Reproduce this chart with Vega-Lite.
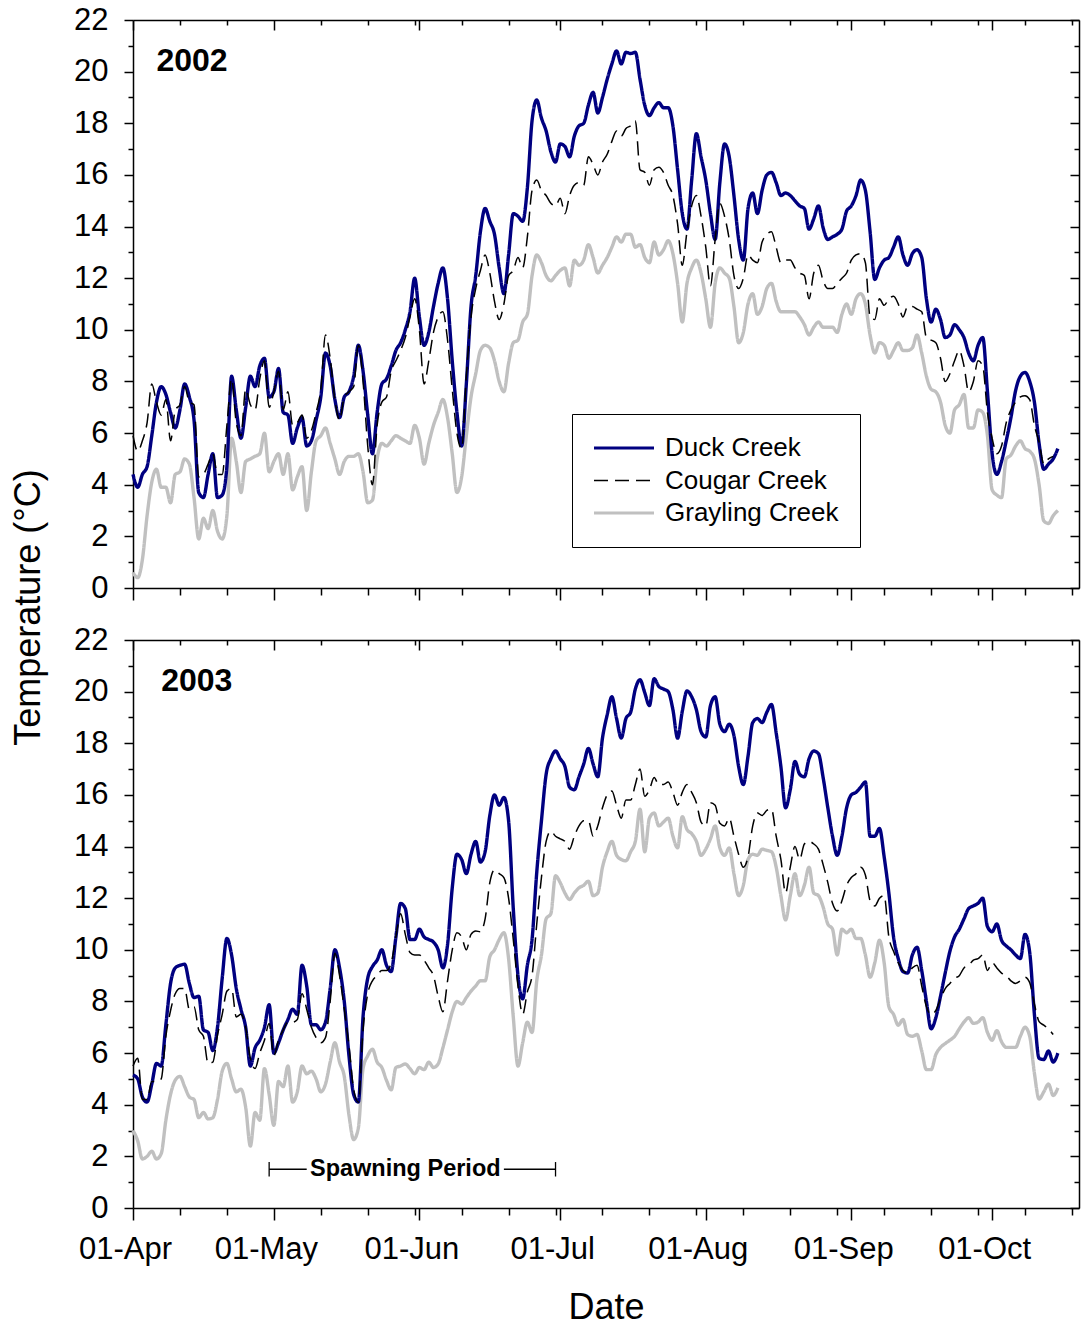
{
  "$schema": "https://vega.github.io/schema/vega-lite/v6.json",
  "background": "white",
  "padding": {"left": 10, "top": 4, "right": 1, "bottom": 2},
  "config": {
    "font": "Liberation Sans",
    "view": {"stroke": null},
    "axis": {"domainColor": "black", "domainWidth": 1.5, "tickColor": "black", "tickWidth": 1.5, "labelColor": "black", "titleColor": "black", "labelFont": "Liberation Sans", "titleFont": "Liberation Sans", "grid": false, "labelFontSize": 31, "titleFontSize": 36, "titleFontWeight": "normal", "labelOverlap": false, "labelFlush": false, "labelBound": false}
  },
  "datasets": {
    "y2002": [
      {"d":"04-01","D":4.4,"C":5.9,"G":0.6},{"d":"04-02","D":3.9,"C":5.3,"G":0.4},{"d":"04-03","D":4.4,"C":5.7,"G":1.1},{"d":"04-04","D":4.7,"C":6.4,"G":2.8},{"d":"04-05","D":5.9,"C":7.9,"G":4.1},{"d":"04-06","D":7.2,"C":7.2,"G":4.6},{"d":"04-07","D":7.8,"C":6.7,"G":3.9},{"d":"04-08","D":7.5,"C":7.3,"G":3.9},{"d":"04-09","D":6.8,"C":5.7,"G":3.3},{"d":"04-10","D":6.2,"C":6.9,"G":4.4},
      {"d":"04-11","D":6.9,"C":7.1,"G":4.5},{"d":"04-12","D":7.9,"C":7.8,"G":5.0},{"d":"04-13","D":7.4,"C":7.2,"G":4.8},{"d":"04-14","D":6.5,"C":7.1,"G":3.5},{"d":"04-15","D":3.7,"C":4.3,"G":1.9},{"d":"04-16","D":3.5,"C":4.4,"G":2.7},{"d":"04-17","D":4.4,"C":4.8,"G":2.3},{"d":"04-18","D":5.2,"C":5.2,"G":3.0},{"d":"04-19","D":3.5,"C":4.4,"G":2.2},{"d":"04-20","D":3.6,"C":4.4,"G":1.9},
      {"d":"04-21","D":4.7,"C":6.3,"G":2.8},{"d":"04-22","D":8.2,"C":8.1,"G":5.8},{"d":"04-23","D":6.9,"C":6.4,"G":4.9},{"d":"04-24","D":5.8,"C":5.9,"G":3.7},{"d":"04-25","D":7.0,"C":7.7,"G":4.9},{"d":"04-26","D":8.2,"C":7.1,"G":5.0},{"d":"04-27","D":7.8,"C":6.9,"G":5.1},{"d":"04-28","D":8.6,"C":8.1,"G":5.2},{"d":"04-29","D":8.9,"C":8.8,"G":6.0},{"d":"04-30","D":7.4,"C":7.0,"G":4.5},
      {"d":"05-01","D":7.6,"C":7.6,"G":4.9},{"d":"05-02","D":8.5,"C":8.4,"G":5.2},{"d":"05-03","D":6.8,"C":6.9,"G":4.4},{"d":"05-04","D":6.7,"C":7.6,"G":5.2},{"d":"05-05","D":5.6,"C":6.3,"G":3.8},{"d":"05-06","D":6.2,"C":6.4,"G":4.3},{"d":"05-07","D":6.6,"C":6.7,"G":4.7},{"d":"05-08","D":5.5,"C":5.8,"G":3.0},{"d":"05-09","D":5.7,"C":6.1,"G":4.5},{"d":"05-10","D":6.5,"C":6.8,"G":5.7},
      {"d":"05-11","D":7.4,"C":7.7,"G":5.9},{"d":"05-12","D":9.1,"C":9.8,"G":6.2},{"d":"05-13","D":8.6,"C":8.9,"G":5.6},{"d":"05-14","D":7.3,"C":7.3,"G":5.0},{"d":"05-15","D":6.6,"C":6.5,"G":4.4},{"d":"05-16","D":7.4,"C":7.4,"G":4.9},{"d":"05-17","D":7.6,"C":7.6,"G":5.1},{"d":"05-18","D":8.2,"C":7.8,"G":5.1},{"d":"05-19","D":9.4,"C":9.4,"G":5.2},{"d":"05-20","D":8.4,"C":8.0,"G":4.5},
      {"d":"05-21","D":6.7,"C":5.5,"G":3.3},{"d":"05-22","D":5.2,"C":4.0,"G":3.4},{"d":"05-23","D":6.8,"C":6.3,"G":5.0},{"d":"05-24","D":7.9,"C":7.2,"G":5.6},{"d":"05-25","D":8.1,"C":7.4,"G":5.5},{"d":"05-26","D":8.6,"C":8.4,"G":5.7},{"d":"05-27","D":9.2,"C":8.8,"G":5.9},{"d":"05-28","D":9.5,"C":9.2,"G":5.8},{"d":"05-29","D":10.0,"C":9.7,"G":5.7},{"d":"05-30","D":10.7,"C":10.5,"G":5.6},
      {"d":"05-31","D":12.0,"C":11.2,"G":6.3},{"d":"06-01","D":10.5,"C":10.0,"G":5.8},{"d":"06-02","D":9.4,"C":7.9,"G":4.8},{"d":"06-03","D":9.9,"C":8.8,"G":5.6},{"d":"06-04","D":10.9,"C":9.9,"G":6.3},{"d":"06-05","D":11.8,"C":10.5,"G":6.8},{"d":"06-06","D":12.4,"C":10.7,"G":7.3},{"d":"06-07","D":11.2,"C":9.6,"G":6.6},{"d":"06-08","D":8.8,"C":7.7,"G":5.2},{"d":"06-09","D":6.8,"C":6.0,"G":3.7},
      {"d":"06-10","D":5.5,"C":5.4,"G":4.3},{"d":"06-11","D":7.9,"C":8.2,"G":5.9},{"d":"06-12","D":10.9,"C":10.5,"G":7.4},{"d":"06-13","D":12.1,"C":11.6,"G":8.3},{"d":"06-14","D":13.8,"C":12.3,"G":9.2},{"d":"06-15","D":14.7,"C":12.9,"G":9.4},{"d":"06-16","D":14.2,"C":12.2,"G":9.3},{"d":"06-17","D":13.7,"C":11.1,"G":8.8},{"d":"06-18","D":12.4,"C":10.4,"G":8.0},{"d":"06-19","D":11.4,"C":11.0,"G":7.6},
      {"d":"06-20","D":12.9,"C":12.1,"G":8.7},{"d":"06-21","D":14.5,"C":12.3,"G":9.5},{"d":"06-22","D":14.4,"C":12.8,"G":9.6},{"d":"06-23","D":14.2,"C":12.4,"G":10.3},{"d":"06-24","D":15.5,"C":13.6,"G":10.6},{"d":"06-25","D":18.1,"C":15.4,"G":12.1},{"d":"06-26","D":18.9,"C":15.8,"G":12.9},{"d":"06-27","D":18.2,"C":15.4,"G":12.6},{"d":"06-28","D":17.7,"C":15.2,"G":12.1},{"d":"06-29","D":16.9,"C":14.9,"G":11.9},
      {"d":"06-30","D":16.5,"C":14.8,"G":12.1},{"d":"07-01","D":17.2,"C":15.1,"G":12.3},{"d":"07-02","D":17.1,"C":14.5,"G":12.4},{"d":"07-03","D":16.7,"C":15.2,"G":11.7},{"d":"07-04","D":17.5,"C":15.6,"G":12.7},{"d":"07-05","D":17.9,"C":15.7,"G":12.5},{"d":"07-06","D":18.0,"C":15.6,"G":12.7},{"d":"07-07","D":18.7,"C":16.7,"G":13.3},{"d":"07-08","D":19.2,"C":16.4,"G":12.8},{"d":"07-09","D":18.4,"C":16.0,"G":12.2},
      {"d":"07-10","D":19.0,"C":16.5,"G":12.5},{"d":"07-11","D":19.7,"C":16.8,"G":12.8},{"d":"07-12","D":20.3,"C":17.3,"G":13.2},{"d":"07-13","D":20.8,"C":17.7,"G":13.6},{"d":"07-14","D":20.3,"C":17.5,"G":13.4},{"d":"07-15","D":20.75,"C":17.8,"G":13.7},{"d":"07-16","D":20.7,"C":17.9,"G":13.7},{"d":"07-17","D":20.75,"C":18.1,"G":13.2},{"d":"07-18","D":19.7,"C":16.2,"G":13.3},{"d":"07-19","D":18.7,"C":16.1,"G":12.8},
      {"d":"07-20","D":18.3,"C":15.6,"G":12.6},{"d":"07-21","D":18.6,"C":16.2,"G":13.4},{"d":"07-22","D":18.8,"C":16.3,"G":12.9},{"d":"07-23","D":18.6,"C":16.1,"G":13.1},{"d":"07-24","D":18.6,"C":15.6,"G":13.45},{"d":"07-25","D":17.9,"C":15.2,"G":12.95},{"d":"07-26","D":16.2,"C":14.1,"G":11.8},{"d":"07-27","D":14.5,"C":12.5,"G":10.3},{"d":"07-28","D":13.9,"C":13.8,"G":11.8},{"d":"07-29","D":15.8,"C":14.8,"G":12.4},
      {"d":"07-30","D":17.6,"C":15.2,"G":12.7},{"d":"07-31","D":16.7,"C":14.4,"G":12.2},{"d":"08-01","D":15.8,"C":13.2,"G":11.2},{"d":"08-02","D":14.5,"C":11.7,"G":10.1},{"d":"08-03","D":13.5,"C":13.5,"G":11.8},{"d":"08-04","D":15.7,"C":14.9,"G":12.4},{"d":"08-05","D":17.2,"C":14.4,"G":12.2},{"d":"08-06","D":16.7,"C":13.5,"G":12.0},{"d":"08-07","D":15.2,"C":12.1,"G":10.9},{"d":"08-08","D":13.5,"C":11.6,"G":9.5},
      {"d":"08-09","D":12.7,"C":12.0,"G":9.9},{"d":"08-10","D":14.7,"C":12.9,"G":11.0},{"d":"08-11","D":15.3,"C":12.7,"G":11.4},{"d":"08-12","D":14.5,"C":12.6,"G":10.6},{"d":"08-13","D":15.4,"C":13.4,"G":10.9},{"d":"08-14","D":16.0,"C":13.7,"G":11.6},{"d":"08-15","D":16.1,"C":13.8,"G":11.8},{"d":"08-16","D":15.7,"C":13.2,"G":11.1},{"d":"08-17","D":15.2,"C":12.6,"G":10.7},{"d":"08-18","D":15.3,"C":12.7,"G":10.7},
      {"d":"08-19","D":15.2,"C":12.7,"G":10.7},{"d":"08-20","D":15.0,"C":12.4,"G":10.7},{"d":"08-21","D":14.8,"C":12.2,"G":10.5},{"d":"08-22","D":14.7,"C":12.1,"G":10.2},{"d":"08-23","D":13.9,"C":11.2,"G":9.8},{"d":"08-24","D":14.3,"C":12.2,"G":10.1},{"d":"08-25","D":14.8,"C":12.5,"G":10.3},{"d":"08-26","D":13.95,"C":11.9,"G":10.1},{"d":"08-27","D":13.5,"C":11.6,"G":10.1},{"d":"08-28","D":13.6,"C":11.6,"G":10.1},
      {"d":"08-29","D":13.7,"C":11.8,"G":9.9},{"d":"08-30","D":13.9,"C":12.0,"G":10.6},{"d":"08-31","D":14.6,"C":12.2,"G":11.0},{"d":"09-01","D":14.8,"C":12.7,"G":10.6},{"d":"09-02","D":15.2,"C":12.9,"G":11.2},{"d":"09-03","D":15.8,"C":12.95,"G":11.4},{"d":"09-04","D":15.4,"C":12.6,"G":11.0},{"d":"09-05","D":13.8,"C":10.5,"G":9.8},{"d":"09-06","D":11.95,"C":10.4,"G":9.1},{"d":"09-07","D":12.4,"C":11.2,"G":9.5},
      {"d":"09-08","D":12.7,"C":10.95,"G":9.4},{"d":"09-09","D":12.8,"C":11.2,"G":8.9},{"d":"09-10","D":13.2,"C":11.3,"G":9.2},{"d":"09-11","D":13.6,"C":11.0,"G":9.5},{"d":"09-12","D":12.9,"C":10.5,"G":9.2},{"d":"09-13","D":12.5,"C":10.9,"G":9.2},{"d":"09-14","D":12.95,"C":10.9,"G":9.3},{"d":"09-15","D":13.1,"C":10.8,"G":9.8},{"d":"09-16","D":12.8,"C":10.7,"G":9.1},{"d":"09-17","D":11.2,"C":9.7,"G":8.2},
      {"d":"09-18","D":10.3,"C":9.6,"G":7.7},{"d":"09-19","D":10.8,"C":9.5,"G":7.6},{"d":"09-20","D":10.4,"C":8.9,"G":7.2},{"d":"09-21","D":9.7,"C":8.0,"G":6.3},{"d":"09-22","D":9.8,"C":8.3,"G":6.0},{"d":"09-23","D":10.2,"C":8.8,"G":6.9},{"d":"09-24","D":10.0,"C":9.2,"G":7.1},{"d":"09-25","D":9.7,"C":8.6,"G":7.5},{"d":"09-26","D":9.1,"C":7.6,"G":6.2},{"d":"09-27","D":8.8,"C":8.0,"G":6.2},
      {"d":"09-28","D":9.4,"C":8.8,"G":6.9},{"d":"09-29","D":9.7,"C":8.6,"G":6.8},{"d":"09-30","D":7.6,"C":6.8,"G":5.9},{"d":"10-01","D":5.2,"C":5.8,"G":3.8},{"d":"10-02","D":4.4,"C":5.2,"G":3.6},{"d":"10-03","D":4.9,"C":5.5,"G":3.5},{"d":"10-04","D":5.7,"C":6.4,"G":5.0},{"d":"10-05","D":6.6,"C":6.9,"G":5.15},{"d":"10-06","D":7.65,"C":7.2,"G":5.5},{"d":"10-07","D":8.2,"C":7.4,"G":5.7},
      {"d":"10-08","D":8.35,"C":7.45,"G":5.4},{"d":"10-09","D":8.0,"C":7.3,"G":5.3},{"d":"10-10","D":7.2,"C":6.3,"G":5.0},{"d":"10-11","D":5.6,"C":5.65,"G":4.0},{"d":"10-12","D":4.6,"C":4.8,"G":2.6},{"d":"10-13","D":4.8,"C":5.0,"G":2.5},{"d":"10-14","D":5.0,"C":5.1,"G":2.8},{"d":"10-15","D":5.4,"G":3.0}
    ],
    "y2003": [
      {"d":"04-01","D":5.15,"C":5.5,"G":3.0},{"d":"04-02","D":5.0,"C":5.8,"G":2.6},{"d":"04-03","D":4.3,"C":4.2,"G":1.9},{"d":"04-04","D":4.1,"C":4.2,"G":2.0},{"d":"04-05","D":4.8,"C":4.9,"G":2.2},{"d":"04-06","D":5.6,"C":4.9,"G":1.9},{"d":"04-07","D":5.5,"C":5.0,"G":2.1},{"d":"04-08","D":7.1,"C":6.65,"G":3.4},{"d":"04-09","D":8.7,"C":7.65,"G":4.4},{"d":"04-10","D":9.3,"C":8.3,"G":4.95},
      {"d":"04-11","D":9.4,"C":8.5,"G":5.1},{"d":"04-12","D":9.44,"C":8.5,"G":4.7},{"d":"04-13","D":8.7,"C":7.7,"G":4.3},{"d":"04-14","D":8.15,"C":7.8,"G":4.2},{"d":"04-15","D":8.2,"C":6.9,"G":3.5},{"d":"04-16","D":6.9,"C":6.65,"G":3.7},{"d":"04-17","D":6.8,"C":5.6,"G":3.45},{"d":"04-18","D":6.1,"C":5.65,"G":3.5},{"d":"04-19","D":7.0,"C":6.7,"G":4.2},{"d":"04-20","D":8.9,"C":7.5,"G":5.3},
      {"d":"04-21","D":10.44,"C":8.4,"G":5.6},{"d":"04-22","D":9.8,"C":8.5,"G":5.0},{"d":"04-23","D":8.5,"C":7.4,"G":4.5},{"d":"04-24","D":7.7,"C":7.5,"G":4.6},{"d":"04-25","D":7.0,"C":7.0,"G":3.9},{"d":"04-26","D":5.5,"C":5.8,"G":2.4},{"d":"04-27","D":6.2,"C":5.4,"G":3.7},{"d":"04-28","D":6.5,"C":6.0,"G":3.4},{"d":"04-29","D":7.0,"C":6.5,"G":5.4},{"d":"04-30","D":7.87,"C":7.15,"G":4.4},
      {"d":"05-01","D":6.0,"C":5.9,"G":3.2},{"d":"05-02","D":6.4,"C":6.5,"G":4.9},{"d":"05-03","D":6.9,"C":6.9,"G":4.7},{"d":"05-04","D":7.3,"C":7.2,"G":5.5},{"d":"05-05","D":7.7,"C":7.2,"G":4.1},{"d":"05-06","D":7.5,"C":7.3,"G":4.5},{"d":"05-07","D":9.4,"C":8.3,"G":5.5},{"d":"05-08","D":8.6,"C":7.7,"G":5.2},{"d":"05-09","D":7.1,"C":7.0,"G":5.3},{"d":"05-10","D":7.1,"C":6.6,"G":5.0},
      {"d":"05-11","D":6.9,"C":6.4,"G":4.5},{"d":"05-12","D":7.2,"C":6.6,"G":4.8},{"d":"05-13","D":8.5,"C":8.0,"G":5.65},{"d":"05-14","D":10.0,"C":9.87,"G":6.4},{"d":"05-15","D":9.3,"C":9.0,"G":5.65},{"d":"05-16","D":8.0,"C":7.7,"G":5.1},{"d":"05-17","D":5.9,"C":6.3,"G":3.6},{"d":"05-18","D":4.4,"C":4.6,"G":2.65},{"d":"05-19","D":4.1,"C":4.1,"G":3.1},{"d":"05-20","D":7.4,"C":6.9,"G":5.4},
      {"d":"05-21","D":8.9,"C":8.3,"G":5.9},{"d":"05-22","D":9.35,"C":8.8,"G":6.15},{"d":"05-23","D":9.6,"C":9.0,"G":5.65},{"d":"05-24","D":10.0,"C":9.2,"G":5.44},{"d":"05-25","D":9.4,"C":9.2,"G":4.94},{"d":"05-26","D":9.16,"C":9.5,"G":4.58},{"d":"05-27","D":10.5,"C":10.5,"G":5.44},{"d":"05-28","D":11.8,"C":11.4,"G":5.5},{"d":"05-29","D":11.6,"C":10.6,"G":5.58},{"d":"05-30","D":10.4,"C":9.9,"G":5.4},
      {"d":"05-31","D":10.4,"C":9.8,"G":5.2},{"d":"06-01","D":10.8,"C":9.8,"G":5.44},{"d":"06-02","D":10.5,"C":9.6,"G":5.36},{"d":"06-03","D":10.4,"C":9.3,"G":5.65},{"d":"06-04","D":10.3,"C":9.0,"G":5.44},{"d":"06-05","D":10.0,"C":8.2,"G":5.58},{"d":"06-06","D":9.3,"C":7.6,"G":6.2},{"d":"06-07","D":10.2,"C":8.8,"G":6.9},{"d":"06-08","D":12.4,"C":10.0,"G":7.6},{"d":"06-09","D":13.7,"C":10.66,"G":8.0},
      {"d":"06-10","D":13.5,"C":10.5,"G":7.9},{"d":"06-11","D":12.95,"C":10.0,"G":8.15},{"d":"06-12","D":13.7,"C":10.6,"G":8.4},{"d":"06-13","D":14.2,"C":10.73,"G":8.6},{"d":"06-14","D":13.4,"C":10.7,"G":8.8},{"d":"06-15","D":13.8,"C":11.2,"G":8.8},{"d":"06-16","D":15.2,"C":12.6,"G":9.73},{"d":"06-17","D":16.0,"C":13.1,"G":10.0},{"d":"06-18","D":15.6,"C":12.95,"G":10.4},{"d":"06-19","D":15.9,"C":12.8,"G":10.66},
      {"d":"06-20","D":15.0,"C":12.0,"G":9.66},{"d":"06-21","D":11.6,"C":10.4,"G":7.4},{"d":"06-22","D":9.0,"C":8.6,"G":5.5},{"d":"06-23","D":8.1,"C":7.5,"G":6.4},{"d":"06-24","D":9.4,"C":8.37,"G":7.2},{"d":"06-25","D":10.4,"C":9.0,"G":6.8},{"d":"06-26","D":13.0,"C":11.0,"G":8.8},{"d":"06-27","D":15.0,"C":12.8,"G":9.8},{"d":"06-28","D":16.8,"C":14.2,"G":11.2},{"d":"06-29","D":17.4,"C":14.6,"G":11.4},
      {"d":"06-30","D":17.7,"C":14.4,"G":12.87},{"d":"07-01","D":17.4,"C":14.3,"G":12.6},{"d":"07-02","D":17.1,"C":14.2,"G":12.2},{"d":"07-03","D":16.3,"C":13.9,"G":11.95},{"d":"07-04","D":16.2,"C":14.4,"G":12.2},{"d":"07-05","D":16.7,"C":14.8,"G":12.4},{"d":"07-06","D":17.2,"C":15.0,"G":12.5},{"d":"07-07","D":17.8,"C":15.0,"G":12.66},{"d":"07-08","D":17.2,"C":14.4,"G":12.1},{"d":"07-09","D":16.7,"C":14.8,"G":12.2},
      {"d":"07-10","D":18.2,"C":15.5,"G":13.2},{"d":"07-11","D":19.1,"C":16.0,"G":13.8},{"d":"07-12","D":19.8,"C":16.15,"G":14.2},{"d":"07-13","D":18.96,"C":15.6,"G":13.66},{"d":"07-14","D":18.2,"C":15.1,"G":13.5},{"d":"07-15","D":18.96,"C":15.8,"G":13.45},{"d":"07-16","D":19.2,"C":15.8,"G":13.8},{"d":"07-17","D":20.1,"C":16.4,"G":14.2},{"d":"07-18","D":20.46,"C":17.0,"G":15.45},{"d":"07-19","D":19.96,"C":15.95,"G":13.8},
      {"d":"07-20","D":19.46,"C":16.2,"G":15.1},{"d":"07-21","D":20.5,"C":16.67,"G":15.3},{"d":"07-22","D":20.2,"C":16.4,"G":14.8},{"d":"07-23","D":20.1,"C":16.4,"G":14.95},{"d":"07-24","D":20.0,"C":16.5,"G":15.1},{"d":"07-25","D":19.3,"C":16.1,"G":14.4},{"d":"07-26","D":18.2,"C":15.6,"G":13.95},{"d":"07-27","D":19.24,"C":16.1,"G":15.16},{"d":"07-28","D":20.03,"C":16.4,"G":14.66},{"d":"07-29","D":19.8,"C":16.1,"G":14.5},
      {"d":"07-30","D":19.3,"C":15.7,"G":14.2},{"d":"07-31","D":18.45,"C":14.95,"G":13.66},{"d":"08-01","D":18.24,"C":14.8,"G":13.9},{"d":"08-02","D":19.46,"C":15.7,"G":14.3},{"d":"08-03","D":19.8,"C":15.6,"G":14.8},{"d":"08-04","D":18.74,"C":14.9,"G":13.95},{"d":"08-05","D":18.45,"C":14.8,"G":13.66},{"d":"08-06","D":18.74,"C":15.1,"G":13.95},{"d":"08-07","D":18.3,"C":14.4,"G":12.95},{"d":"08-08","D":17.1,"C":13.7,"G":12.1},
      {"d":"08-09","D":16.4,"C":13.2,"G":12.5},{"d":"08-10","D":17.5,"C":13.6,"G":13.5},{"d":"08-11","D":18.8,"C":14.8,"G":13.7},{"d":"08-12","D":18.96,"C":15.3,"G":13.66},{"d":"08-13","D":18.8,"C":15.2,"G":13.9},{"d":"08-14","D":19.2,"C":15.4,"G":13.85},{"d":"08-15","D":19.5,"C":15.45,"G":13.8},{"d":"08-16","D":18.4,"C":14.4,"G":13.2},{"d":"08-17","D":17.1,"C":13.5,"G":12.1},{"d":"08-18","D":15.5,"C":12.2,"G":11.16},
      {"d":"08-19","D":16.2,"C":13.2,"G":12.1},{"d":"08-20","D":17.3,"C":14.0,"G":12.95},{"d":"08-21","D":16.8,"C":13.5,"G":12.1},{"d":"08-22","D":16.7,"C":14.1,"G":12.5},{"d":"08-23","D":17.4,"C":14.2,"G":13.2},{"d":"08-24","D":17.7,"C":14.1,"G":12.2},{"d":"08-25","D":17.6,"C":13.9,"G":12.1},{"d":"08-26","D":16.67,"C":13.3,"G":11.66},{"d":"08-27","D":15.5,"C":12.6,"G":11.0},{"d":"08-28","D":14.4,"C":11.8,"G":10.8},
      {"d":"08-29","D":13.66,"C":11.5,"G":9.8},{"d":"08-30","D":14.4,"C":11.9,"G":10.8},{"d":"08-31","D":15.5,"C":12.5,"G":10.66},{"d":"09-01","D":16.0,"C":12.8,"G":10.8},{"d":"09-02","D":16.1,"C":12.95,"G":10.44},{"d":"09-03","D":16.3,"C":13.2,"G":10.44},{"d":"09-04","D":16.5,"C":12.9,"G":9.8},{"d":"09-05","D":14.4,"C":11.9,"G":8.94},{"d":"09-06","D":14.4,"C":11.7,"G":9.5},{"d":"09-07","D":14.7,"C":12.0,"G":10.37},
      {"d":"09-08","D":13.6,"C":12.1,"G":9.5},{"d":"09-09","D":12.2,"C":10.5,"G":7.8},{"d":"09-10","D":10.5,"C":9.94,"G":7.5},{"d":"09-11","D":9.66,"C":9.5,"G":7.08},{"d":"09-12","D":9.16,"C":9.2,"G":7.3},{"d":"09-13","D":9.1,"C":9.1,"G":6.72},{"d":"09-14","D":9.8,"C":9.3,"G":6.65},{"d":"09-15","D":10.1,"C":9.4,"G":6.72},{"d":"09-16","D":9.2,"C":8.6,"G":6.08},{"d":"09-17","D":8.0,"C":7.8,"G":5.36},
      {"d":"09-18","D":6.94,"C":7.5,"G":5.36},{"d":"09-19","D":7.37,"C":7.65,"G":5.94},{"d":"09-20","D":8.2,"C":8.1,"G":6.22},{"d":"09-21","D":9.1,"C":8.5,"G":6.37},{"d":"09-22","D":9.94,"C":8.7,"G":6.5},{"d":"09-23","D":10.5,"C":8.9,"G":6.65},{"d":"09-24","D":10.8,"C":9.0,"G":6.94},{"d":"09-25","D":11.2,"C":9.3,"G":7.2},{"d":"09-26","D":11.6,"C":9.4,"G":7.37},{"d":"09-27","D":11.7,"C":9.6,"G":7.15},
      {"d":"09-28","D":11.8,"C":9.66,"G":7.2},{"d":"09-29","D":12.0,"C":9.8,"G":7.37},{"d":"09-30","D":10.9,"C":9.2,"G":6.8},{"d":"10-01","D":10.7,"C":9.5,"G":6.5},{"d":"10-02","D":11.0,"C":9.3,"G":6.87},{"d":"10-03","D":10.37,"C":9.1,"G":6.44},{"d":"10-04","D":10.15,"C":9.0,"G":6.22},{"d":"10-05","D":10.0,"C":8.8,"G":6.22},{"d":"10-06","D":9.8,"C":8.7,"G":6.22},{"d":"10-07","D":9.66,"C":8.8,"G":6.65},
      {"d":"10-08","D":10.6,"C":8.94,"G":7.0},{"d":"10-09","D":9.9,"C":8.73,"G":6.65},{"d":"10-10","D":7.5,"C":7.9,"G":5.22},{"d":"10-11","D":5.8,"C":7.22,"G":4.22},{"d":"10-12","D":5.75,"C":7.08,"G":4.5},{"d":"10-13","D":6.08,"C":6.94,"G":4.8},{"d":"10-14","D":5.65,"C":6.72,"G":4.36},{"d":"10-15","D":6.0,"G":4.65}
    ]
  },
  "spacing": 52,
  "bounds": "flush",
  "resolve": {"scale": {"x": "independent", "y": "independent", "color": "independent", "strokeDash": "independent"}, "legend": {"color": "independent", "strokeDash": "independent"}},
  "vconcat": [
    {
      "width": 946,
      "height": 568,
      "resolve": {"axis": {"x": "independent", "y": "independent"}},
      "layer": [
        {
          "data": {"name": "y2002", "format": {"parse": {"d": "date:'%m-%d'"}}},
          "transform": [{"fold": ["G", "D", "C"], "as": ["k", "t"]}, {"filter": "isValid(datum.t)"}],
          "mark": {"type": "line", "interpolate": "monotone"},
          "encoding": {
            "x": {"field": "d", "type": "temporal", "scale": {"domain": [{"year": 1900, "month": 4, "date": 1}, {"year": 1900, "month": 10, "date": 19, "hours": 12}]},
              "axis": {"orient": "bottom", "title": null, "labels": false, "values": [{"year":1900,"month":4,"date":1},{"year":1900,"month":4,"date":11},{"year":1900,"month":4,"date":21},{"year":1900,"month":5,"date":1},{"year":1900,"month":5,"date":11},{"year":1900,"month":5,"date":21},{"year":1900,"month":5,"date":31},{"year":1900,"month":6,"date":1},{"year":1900,"month":6,"date":10},{"year":1900,"month":6,"date":20},{"year":1900,"month":6,"date":30},{"year":1900,"month":7,"date":1},{"year":1900,"month":7,"date":10},{"year":1900,"month":7,"date":20},{"year":1900,"month":7,"date":30},{"year":1900,"month":8,"date":1},{"year":1900,"month":8,"date":9},{"year":1900,"month":8,"date":19},{"year":1900,"month":8,"date":29},{"year":1900,"month":9,"date":1},{"year":1900,"month":9,"date":8},{"year":1900,"month":9,"date":18},{"year":1900,"month":9,"date":28},{"year":1900,"month":10,"date":1},{"year":1900,"month":10,"date":8},{"year":1900,"month":10,"date":18}],
                "tickSize": {"condition": {"test": "date(datum.value) == 1", "value": 12}, "value": 7}}},
            "y": {"field": "t", "type": "quantitative", "scale": {"domain": [0, 22], "nice": false},
              "axis": {"orient": "left", "title": "Temperature (°C)", "titleX": -94, "titleY": 587, "titleAngle": -90, "titleAlign": "center", "titleBaseline": "alphabetic", "titleFontSize": 36, "values": [0,1,2,3,4,5,6,7,8,9,10,11,12,13,14,15,16,17,18,19,20,21,22], "labelExpr": "datum.value % 2 == 0 ? datum.label : ''", "labelPadding": 16,
                "tickSize": {"condition": {"test": "datum.value % 2 == 0", "value": 9}, "value": 5}}},
            "color": {"field": "k", "type": "nominal", "scale": {"domain": ["D", "C", "G"], "range": ["#000080", "#000000", "#c0c0c0"]},
              "legend": {"orient": "none", "legendX": 439, "legendY": 394, "title": null, "labelExpr": "datum.label == 'D' ? 'Duck Creek' : datum.label == 'C' ? 'Cougar Creek' : 'Grayling Creek'", "symbolType": "M-3,0H3", "symbolSize": 400, "symbolStrokeWidth": 3, "symbolOffset": 18, "labelFontSize": 26, "labelLimit": 400, "labelFont": "Liberation Sans", "labelColor": "black", "labelOffset": 28, "rowPadding": 6.5, "padding": 21, "strokeColor": "black", "fillColor": "white",
                "encode": {"symbols": {"update": {"strokeWidth": {"signal": "datum.value === 'C' ? 1.5 : 3.2"}}}}}},
            "strokeDash": {"field": "k", "type": "nominal", "scale": {"domain": ["D", "C", "G"], "range": [[1, 0], [14, 7], [1, 0]]},
              "legend": {"orient": "none", "legendX": 439, "legendY": 394, "title": null, "labelExpr": "datum.label == 'D' ? 'Duck Creek' : datum.label == 'C' ? 'Cougar Creek' : 'Grayling Creek'", "symbolType": "M-3,0H3", "symbolSize": 400, "symbolStrokeWidth": 3, "symbolOffset": 18, "labelFontSize": 26, "labelLimit": 400, "labelFont": "Liberation Sans", "labelColor": "black", "labelOffset": 28, "rowPadding": 6.5, "padding": 21, "strokeColor": "black", "fillColor": "white",
                "encode": {"symbols": {"update": {"strokeWidth": {"signal": "datum.value === 'C' ? 1.5 : 3.2"}}}}}},
            "strokeWidth": {"condition": {"test": "datum.k == 'C'", "value": 1.5}, "value": 3.4}
          }
        },
        {
          "data": {"values": [{"label": "2002"}]},
          "mark": {"type": "text", "fontSize": 32, "fontWeight": "bold", "font": "Liberation Sans", "align": "left", "baseline": "middle", "color": "black"},
          "encoding": {
            "text": {"field": "label"},
            "x": {"datum": {"year": 1900, "month": 4, "date": 6}, "type": "temporal",
              "axis": {"orient": "top", "title": null, "labels": false, "values": [{"year":1900,"month":4,"date":1},{"year":1900,"month":4,"date":11},{"year":1900,"month":4,"date":21},{"year":1900,"month":5,"date":1},{"year":1900,"month":5,"date":11},{"year":1900,"month":5,"date":21},{"year":1900,"month":5,"date":31},{"year":1900,"month":6,"date":1},{"year":1900,"month":6,"date":10},{"year":1900,"month":6,"date":20},{"year":1900,"month":6,"date":30},{"year":1900,"month":7,"date":1},{"year":1900,"month":7,"date":10},{"year":1900,"month":7,"date":20},{"year":1900,"month":7,"date":30},{"year":1900,"month":8,"date":1},{"year":1900,"month":8,"date":9},{"year":1900,"month":8,"date":19},{"year":1900,"month":8,"date":29},{"year":1900,"month":9,"date":1},{"year":1900,"month":9,"date":8},{"year":1900,"month":9,"date":18},{"year":1900,"month":9,"date":28},{"year":1900,"month":10,"date":1},{"year":1900,"month":10,"date":8},{"year":1900,"month":10,"date":18}],
                "tickSize": {"condition": {"test": "date(datum.value) == 1", "value": -10}, "value": -5}}},
            "y": {"datum": 20.4, "type": "quantitative",
              "axis": {"orient": "right", "title": null, "labels": false, "values": [0,1,2,3,4,5,6,7,8,9,10,11,12,13,14,15,16,17,18,19,20,21,22],
                "tickSize": {"condition": {"test": "datum.value % 2 == 0", "value": -9}, "value": -5}}}
          }
        }
      ]
    },
    {
      "width": 946,
      "height": 568,
      "resolve": {"axis": {"x": "independent", "y": "independent"}},
      "layer": [
        {
          "data": {"name": "y2003", "format": {"parse": {"d": "date:'%m-%d'"}}},
          "transform": [{"fold": ["G", "D", "C"], "as": ["k", "t"]}, {"filter": "isValid(datum.t)"}],
          "mark": {"type": "line", "interpolate": "monotone"},
          "encoding": {
            "x": {"field": "d", "type": "temporal", "scale": {"domain": [{"year": 1900, "month": 4, "date": 1}, {"year": 1900, "month": 10, "date": 19, "hours": 12}]},
              "axis": {"orient": "bottom", "title": "Date", "titlePadding": 26, "format": "%d-%b", "labelExpr": "date(datum.value) == 1 ? datum.label : ''", "labelOffset": -8, "labelPadding": 14, "values": [{"year":1900,"month":4,"date":1},{"year":1900,"month":4,"date":11},{"year":1900,"month":4,"date":21},{"year":1900,"month":5,"date":1},{"year":1900,"month":5,"date":11},{"year":1900,"month":5,"date":21},{"year":1900,"month":5,"date":31},{"year":1900,"month":6,"date":1},{"year":1900,"month":6,"date":10},{"year":1900,"month":6,"date":20},{"year":1900,"month":6,"date":30},{"year":1900,"month":7,"date":1},{"year":1900,"month":7,"date":10},{"year":1900,"month":7,"date":20},{"year":1900,"month":7,"date":30},{"year":1900,"month":8,"date":1},{"year":1900,"month":8,"date":9},{"year":1900,"month":8,"date":19},{"year":1900,"month":8,"date":29},{"year":1900,"month":9,"date":1},{"year":1900,"month":9,"date":8},{"year":1900,"month":9,"date":18},{"year":1900,"month":9,"date":28},{"year":1900,"month":10,"date":1},{"year":1900,"month":10,"date":8},{"year":1900,"month":10,"date":18}],
                "tickSize": {"condition": {"test": "date(datum.value) == 1", "value": 12}, "value": 7}}},
            "y": {"field": "t", "type": "quantitative", "scale": {"domain": [0, 22], "nice": false},
              "axis": {"orient": "left", "title": null, "values": [0,1,2,3,4,5,6,7,8,9,10,11,12,13,14,15,16,17,18,19,20,21,22], "labelExpr": "datum.value % 2 == 0 ? datum.label : ''", "labelPadding": 16,
                "tickSize": {"condition": {"test": "datum.value % 2 == 0", "value": 9}, "value": 5}}},
            "color": {"field": "k", "type": "nominal", "scale": {"domain": ["D", "C", "G"], "range": ["#000080", "#000000", "#c0c0c0"]}, "legend": null},
            "strokeDash": {"field": "k", "type": "nominal", "scale": {"domain": ["D", "C", "G"], "range": [[1, 0], [14, 7], [1, 0]]}, "legend": null},
            "strokeWidth": {"condition": {"test": "datum.k == 'C'", "value": 1.5}, "value": 3.4}
          }
        },
        {
          "data": {"values": [{"label": "2003"}]},
          "mark": {"type": "text", "fontSize": 32, "fontWeight": "bold", "font": "Liberation Sans", "align": "left", "baseline": "middle", "color": "black"},
          "encoding": {
            "text": {"field": "label"},
            "x": {"datum": {"year": 1900, "month": 4, "date": 7}, "type": "temporal",
              "axis": {"orient": "top", "title": null, "labels": false, "values": [{"year":1900,"month":4,"date":1},{"year":1900,"month":4,"date":11},{"year":1900,"month":4,"date":21},{"year":1900,"month":5,"date":1},{"year":1900,"month":5,"date":11},{"year":1900,"month":5,"date":21},{"year":1900,"month":5,"date":31},{"year":1900,"month":6,"date":1},{"year":1900,"month":6,"date":10},{"year":1900,"month":6,"date":20},{"year":1900,"month":6,"date":30},{"year":1900,"month":7,"date":1},{"year":1900,"month":7,"date":10},{"year":1900,"month":7,"date":20},{"year":1900,"month":7,"date":30},{"year":1900,"month":8,"date":1},{"year":1900,"month":8,"date":9},{"year":1900,"month":8,"date":19},{"year":1900,"month":8,"date":29},{"year":1900,"month":9,"date":1},{"year":1900,"month":9,"date":8},{"year":1900,"month":9,"date":18},{"year":1900,"month":9,"date":28},{"year":1900,"month":10,"date":1},{"year":1900,"month":10,"date":8},{"year":1900,"month":10,"date":18}],
                "tickSize": {"condition": {"test": "date(datum.value) == 1", "value": -10}, "value": -5}}},
            "y": {"datum": 20.4, "type": "quantitative",
              "axis": {"orient": "right", "title": null, "labels": false, "values": [0,1,2,3,4,5,6,7,8,9,10,11,12,13,14,15,16,17,18,19,20,21,22],
                "tickSize": {"condition": {"test": "datum.value % 2 == 0", "value": -9}, "value": -5}}}
          }
        },
        {
          "data": {"values": [{"label": "Spawning Period"}]},
          "mark": {"type": "text", "fontSize": 23.5, "fontWeight": "bold", "font": "Liberation Sans", "align": "center", "baseline": "middle", "color": "black"},
          "encoding": {
            "text": {"field": "label"},
            "x": {"datum": {"year": 1900, "month": 5, "date": 29}, "type": "temporal", "axis": null},
            "y": {"datum": 1.5, "type": "quantitative", "axis": null}
          }
        },
        {
          "data": {"values": [{}]},
          "mark": {"type": "rule", "color": "black", "strokeWidth": 1.3},
          "encoding": {
            "x": {"datum": {"year": 1900, "month": 4, "date": 30}, "type": "temporal", "axis": null},
            "x2": {"datum": {"year": 1900, "month": 5, "date": 8}},
            "y": {"datum": 1.5, "type": "quantitative", "axis": null}
          }
        },
        {
          "data": {"values": [{}]},
          "mark": {"type": "rule", "color": "black", "strokeWidth": 1.3},
          "encoding": {
            "x": {"datum": {"year": 1900, "month": 6, "date": 19}, "type": "temporal", "axis": null},
            "x2": {"datum": {"year": 1900, "month": 6, "date": 30}},
            "y": {"datum": 1.5, "type": "quantitative", "axis": null}
          }
        },
        {
          "data": {"values": [{}]},
          "mark": {"type": "rule", "color": "black", "strokeWidth": 1.3},
          "encoding": {
            "x": {"datum": {"year": 1900, "month": 4, "date": 30}, "type": "temporal", "axis": null},
            "y": {"datum": 1.22, "type": "quantitative", "axis": null},
            "y2": {"datum": 1.78}
          }
        },
        {
          "data": {"values": [{}]},
          "mark": {"type": "rule", "color": "black", "strokeWidth": 1.3},
          "encoding": {
            "x": {"datum": {"year": 1900, "month": 6, "date": 30}, "type": "temporal", "axis": null},
            "y": {"datum": 1.22, "type": "quantitative", "axis": null},
            "y2": {"datum": 1.78}
          }
        }
      ]
    }
  ]
}
